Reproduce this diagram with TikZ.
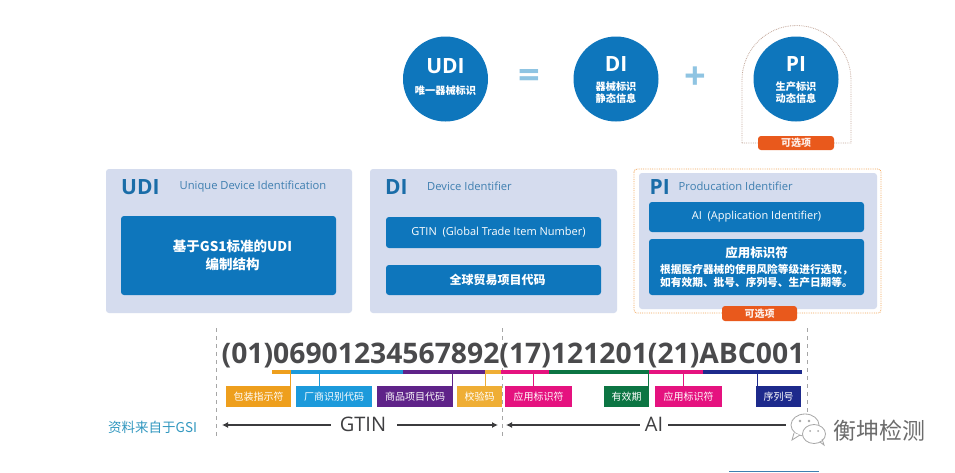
\documentclass[tikz,border=0pt]{standalone}
\usepackage{fontspec}
\setmainfont{Open Sans}
\newfontfamily\cjk{Noto Sans CJK SC}
\definecolor{cblue}{HTML}{0E76BC}
\definecolor{pale}{HTML}{D5DCEE}
\definecolor{head}{HTML}{1A6DA8}
\definecolor{sub}{HTML}{3F7FB0}
\definecolor{sym}{HTML}{8FC4E2}
\definecolor{pill}{HTML}{E9591C}
\definecolor{corange}{HTML}{EE9F1D}
\definecolor{cyanb}{HTML}{1C9ADB}
\definecolor{purp}{HTML}{5F2389}
\definecolor{lorange}{HTML}{EFAE35}
\definecolor{pink}{HTML}{E5127F}
\definecolor{dgreen}{HTML}{0C7543}
\definecolor{navy}{HTML}{1D2A8C}
\definecolor{txt}{HTML}{4A4A4C}
\definecolor{archc}{HTML}{C4A99C}
\usetikzlibrary{arrows.meta}
\tikzset{
  bx/.style={inner sep=0pt,outer sep=0pt,rectangle,align=center,text=white},
  panel/.style={bx,fill=pale,rounded corners=3pt},
  inner/.style={bx,fill=cblue,rounded corners=3pt},
  pillbox/.style={bx,fill=pill,rounded corners=3pt,font=\cjk\bfseries\fontsize{10}{11}\selectfont,text=white!90!pill},
  tag/.style={bx,font=\cjk\fontsize{10}{11}\selectfont},
  bar/.style={bx},
  disc/.style={circle,fill=cblue,minimum size=85pt,inner sep=0pt,text=white},
  dots/.style={densely dotted,line width=0.8pt},
  stem/.style={line width=1pt},
  guide/.style={dashed,dash pattern=on 4pt off 4pt,line width=0.5pt,draw=gray!70},
  dim/.style={line width=1.2pt,draw=txt!80!black,-{Latex[length=6pt,width=6pt]}},
  sublbl/.style={text=white,font=\cjk\bfseries\fontsize{10.2}{12}\selectfont,inner sep=0pt,align=center},
  bigt/.style={text=white,font=\bfseries\fontsize{21}{24}\selectfont,inner sep=0pt},
  hd/.style={anchor=west,inner sep=0pt,text=head,font=\bfseries\fontsize{21}{24}\selectfont},
  hn/.style={anchor=west,inner sep=0pt,text=sub,font=\fontsize{11.2}{13}\selectfont},
}
\newcommand{\pxbox}[6]{% name x1 y1 x2 y2 style+text
  \pgfmathsetmacro{\pw}{#4-#2}\pgfmathsetmacro{\ph}{#5-#3}
  \pgfmathsetmacro{\pcx}{(#2+#4)/2}\pgfmathsetmacro{\pcy}{(#3+#5)/2}
  \node[minimum width=\pw pt,minimum height=\ph pt,#6] (#1) at (\pcx,\pcy)}
\begin{document}
\begin{tikzpicture}[x=1pt,y=-1pt]
\useasboundingbox (0,0) rectangle (955,472);
\fill[white] (0,0) rectangle (955,472);

% top formula
\draw[dots,draw=archc] (742,143) -- (742,80) arc[start angle=180,end angle=360,radius=54.5] -- (851,143) -- cycle;
\node[disc] (cudi) at (445.5,79) {};
\node[disc] (cdi) at (616,79) {};
\node[disc] (cpi) at (796,79) {};
\node[bigt] (tudi) at (445.5,66) {UDI};
\node[sublbl] (sudi) at (445.5,91) {唯一器械标识};
\node[bigt] (tdi) at (616,64) {DI};
\node[sublbl] (sdi) at (616,93) {器械标识\\静态信息};
\node[bigt] (tpi) at (796,64) {PI};
\node[sublbl] (spi) at (796,93) {生产标识\\动态信息};
\node[text=sym,font=\bfseries\fontsize{38}{38}\selectfont,inner sep=0pt] (eq) at (529,79) {=};
\node[text=sym,font=\bfseries\fontsize{38}{38}\selectfont,inner sep=0pt] (pl) at (695,78) {+};
\pxbox{pill1}{758}{136}{834}{150}{pillbox} {可选项};

% panels
\pxbox{pudi}{106}{169}{352}{313}{panel} {};
\pxbox{pdi}{370}{169}{617}{313}{panel} {};
\pxbox{ppi}{639}{173}{877}{309}{panel} {};
\draw[dots,draw=orange!70!brown!70,rounded corners=3pt] (634,169) rectangle (881,313);

\node[hd] (hudi) at (121,187) {UDI};
\node[hn] (nudi) at (179.5,186.5) {Unique Device Identification};
\node[hd] (hdi) at (385,187) {DI};
\node[hn] (ndi) at (427,186.5) {Device Identifier};
\node[hd] (hpi) at (649.5,187) {PI};
\node[hn] (npi) at (678.5,186.5) {Producation Identifier};

\pxbox{iudi}{121}{216}{336}{295}{inner,font=\cjk\bfseries\fontsize{13.5}{18.5}\selectfont} {\hspace{8pt}基于GS1标准的UDI\\\hspace{8pt}编制结构};
\pxbox{idi1}{386}{217}{601}{248}{inner,font=\fontsize{11}{13}\selectfont} {\hspace{10pt}GTIN\ \ (Global Trade Item Number)};
\pxbox{idi2}{386}{265}{601}{295}{inner,font=\cjk\bfseries\fontsize{12}{14}\selectfont} {\hspace{8pt}全球贸易项目代码};
\pxbox{ipi1}{649}{202}{864}{232}{inner,font=\fontsize{11}{13}\selectfont} {AI\ \ (Application Identifier)};
\pxbox{ipi2}{649}{239}{864}{295}{inner,font=\cjk\bfseries\fontsize{10.7}{12.7}\selectfont} {{\fontsize{12.5}{16}\selectfont 应用标识符}\\[3pt]根据医疗器械的使用风险等级进行选取，\\如有效期、批号、序列号、生产日期等。};
\pxbox{pill2}{722}{306}{797}{321}{pillbox} {可选项};

% guides
\coordinate (g1t) at (216,328); \coordinate (g1b) at (216,439);
\coordinate (g2t) at (502,328); \coordinate (g2b) at (502,439);
\coordinate (g3t) at (807,328); \coordinate (g3b) at (807,415);
\draw[guide] (g1t) -- (g1b);
\draw[guide] (g2t) -- (g2b);
\draw[guide] (g3t) -- (g3b);

% code
\node[inner sep=0pt,text=txt,font=\bfseries\fontsize{28.3}{30}\selectfont] (code) at (513,355) {(01)06901234567892(17)121201(21)ABC001};

% bars
\pxbox{b1}{272}{370}{291}{374}{bar,fill=corange} {};
\pxbox{b2}{291}{370}{403}{374}{bar,fill=cyanb} {};
\pxbox{b3}{403}{370}{485}{374}{bar,fill=purp} {};
\pxbox{b4}{485}{370}{501}{374}{bar,fill=lorange} {};
\pxbox{b5}{501}{370}{549}{374}{bar,fill=pink} {};
\pxbox{b6}{549}{370}{649}{374}{bar,fill=dgreen} {};
\pxbox{b7}{649}{370}{703}{374}{bar,fill=pink} {};
\pxbox{b8}{703}{370}{802}{374}{bar,fill=navy} {};

% tags
\pxbox{t1}{226}{386}{291}{407}{tag,fill=corange} {包装指示符};
\pxbox{t2}{296}{386}{372}{407}{tag,fill=cyanb} {厂商识别代码};
\pxbox{t3}{377}{386}{453}{407}{tag,fill=purp} {商品项目代码};
\pxbox{t4}{457}{386}{502}{407}{tag,fill=lorange} {校验码};
\pxbox{t5}{505}{386}{572}{407}{tag,fill=pink} {应用标识符};
\pxbox{t6}{604}{386}{649}{407}{tag,fill=dgreen} {有效期};
\pxbox{t7}{655}{386}{722}{407}{tag,fill=pink} {应用标识符};
\pxbox{t8}{756}{386}{801}{407}{tag,fill=navy} {序列号};

% stems
\draw[stem,draw=corange] (b1.south -| 290,0) -- (t1.north -| 290,0);
\draw[stem,draw=cyanb] (b2.south -| 319,0) -- (t2.north -| 319,0);
\draw[stem,draw=purp] (b3.south -| 452.5,0) -- (t3.north -| 452.5,0);
\draw[stem,draw=lorange] (b4.south -| 485,0) -- (t4.north -| 485,0);
\draw[stem,draw=pink] (b5.south -| 533,0) -- (t5.north -| 533,0);
\draw[stem,draw=dgreen] (b6.south -| 648,0) -- (t6.north -| 648,0);
\draw[stem,draw=pink] (b7.south -| 683,0) -- (t7.north -| 683,0);
\draw[stem,draw=navy] (b8.south -| 757,0) -- (t8.north -| 757,0);

% dimensions
\node[inner sep=0pt,text=txt!85!black,font=\fontsize{20}{22}\selectfont] (gtin) at (363,424.5) {GTIN};
\node[inner sep=0pt,text=txt!85!black,font=\fontsize{20}{22}\selectfont] (ai) at (654,424.5) {AI};
\coordinate (al) at (222,425); \coordinate (ar) at (498,425);
\coordinate (bl) at (506,425); \coordinate (br) at (802,425);
\draw[dim] ([xshift=-9pt,yshift=-0.5pt]gtin.west) -- (al);
\draw[dim] ([xshift=11pt,yshift=-0.5pt]gtin.east) -- (ar);
\draw[dim] ([xshift=-5pt,yshift=-0.5pt]ai.west) -- (bl);
\draw[dim] ([xshift=5pt,yshift=-0.5pt]ai.east) -- (br);

\node[anchor=west,inner sep=0pt,text=sub!80!cyan,font=\cjk\fontsize{13.5}{15}\selectfont] (src) at (108,427) {资料来自于GSI};

% watermark
\fill[white] (786,412) rectangle (830,448);
\draw[gray!70,line width=0.8pt,fill=white] (805,425) ellipse[x radius=14,y radius=11];
\draw[gray!70,line width=0.8pt,fill=white] (794,433) -- (792,440) -- (800,435);
\draw[gray!70,line width=0.8pt,fill=white] (814,434) ellipse[x radius=11.5,y radius=9.5];
\draw[gray!70,line width=0.8pt] (820,442) -- (824,445) -- (822,439);
\fill[gray!70] (800,421) circle[radius=1.4] (809,421) circle[radius=1.4] (810,431) circle[radius=1] (818,431) circle[radius=1];
\node[anchor=west,inner sep=0pt,text=gray!85!black,font=\cjk\fontsize{23}{25}\selectfont] (wm) at (833,431) {衡坤检测};

% bottom edge
\fill[sub] (729,470.7) rectangle (819,472);
\end{tikzpicture}
\end{document}
